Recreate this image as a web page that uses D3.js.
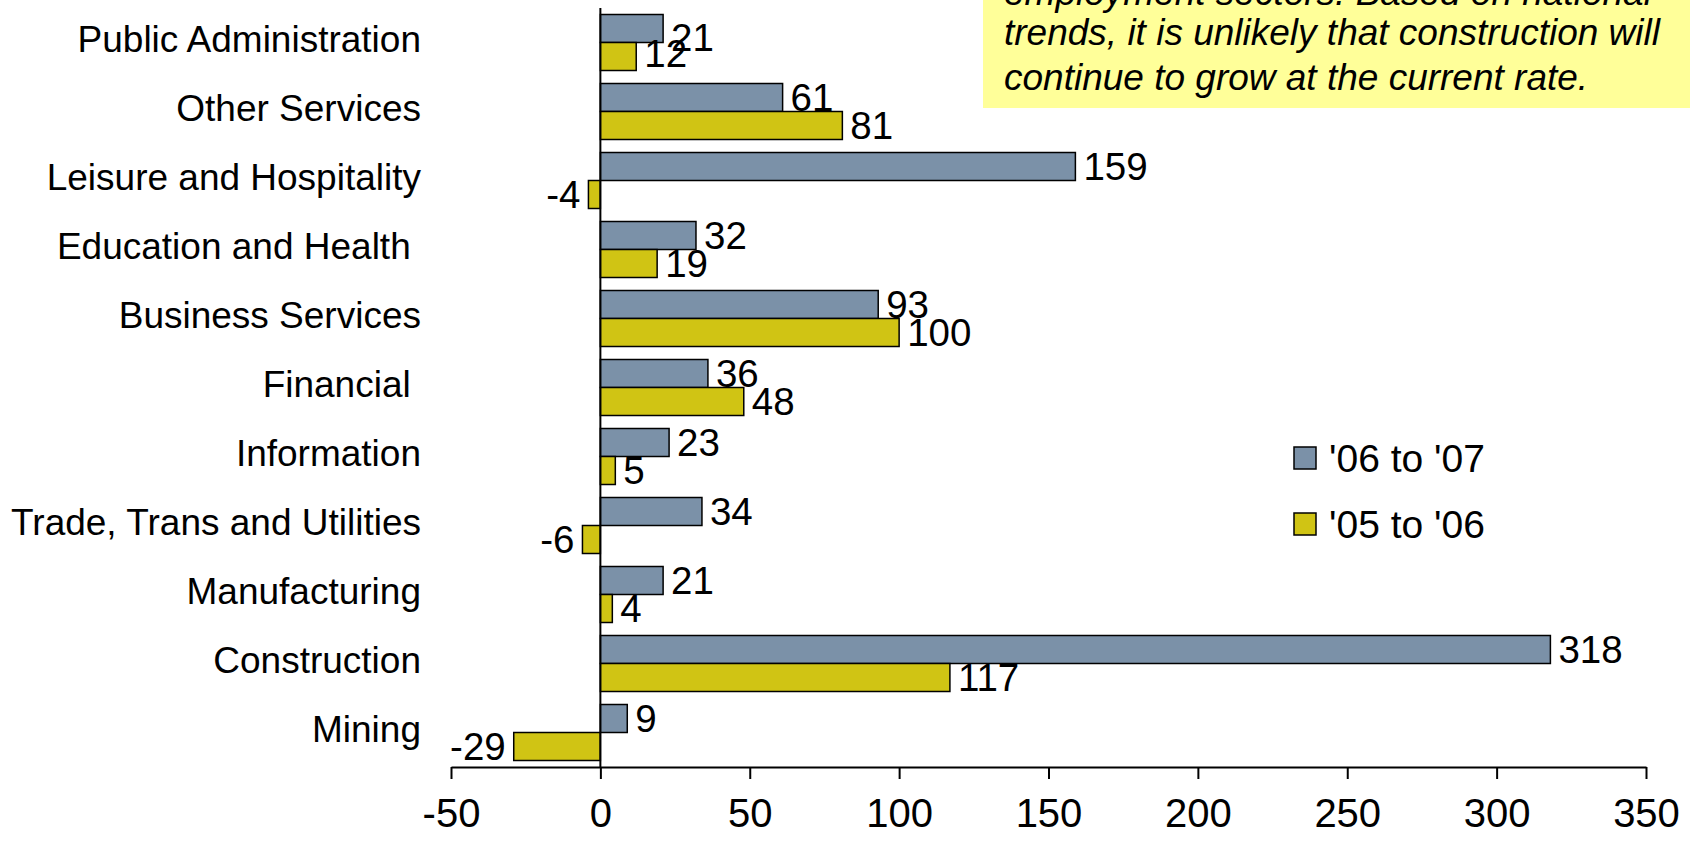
<!DOCTYPE html>
<html>
<head>
<meta charset="utf-8">
<script src="https://cdn.jsdelivr.net/npm/d3@7/dist/d3.min.js"></script>
<style>
  html, body { margin: 0; padding: 0; background: #ffffff; }
  svg { display: block; }
  text { font-family: "Liberation Sans", Arial, Helvetica, sans-serif; fill: #000; }
</style>
</head>
<body>
<svg id="chart" width="1690" height="844"></svg>
<script>
// Employment change by sector (thousands of jobs)
const categories = [
  "Public Administration",
  "Other Services",
  "Leisure and Hospitality",
  "Education and Health ",
  "Business Services",
  "Financial ",
  "Information",
  "Trade, Trans and Utilities",
  "Manufacturing",
  "Construction",
  "Mining"
];
const seriesNames = ["'06 to '07", "'05 to '06"];
const change0607 = [21, 61, 159, 32, 93, 36, 23, 34, 21, 318, 9];
const change0506 = [12, 81, -4, 19, 100, 48, 5, -6, 4, 117, -29];
const xTicks = [-50, 0, 50, 100, 150, 200, 250, 300, 350];
const noteLines = [
  "employment sectors. Based on national",
  "trends, it is unlikely that construction will",
  "continue to grow at the current rate."
];

const colors = ["#7b91a8", "#d0c414"];
const seriesValues = [change0607, change0506];

const svg = d3.select("#chart");
const FONT = 37;

const x = d3.scaleLinear().domain([-50, 350]).range([451, 1646]);
const y = d3.scaleBand().domain(categories).range([8, 767])
  .paddingInner(13 / 69).paddingOuter(13 / 138);
const ySub = d3.scaleBand().domain([0, 1]).range([0, y.bandwidth()]);

// bars
const rows = categories.map((c, i) => ({
  cat: c,
  vals: seriesValues.map((s, k) => ({ k, v: s[i], cat: c }))
}));

const groups = svg.append("g").selectAll("g")
  .data(rows).join("g")
  .attr("transform", d => `translate(0,${y(d.cat)})`);

groups.selectAll("rect")
  .data(d => d.vals).join("rect")
  .attr("x", d => x(Math.min(0, d.v)))
  .attr("y", d => ySub(d.k))
  .attr("width", d => Math.abs(x(d.v) - x(0)))
  .attr("height", ySub.bandwidth())
  .attr("fill", d => colors[d.k])
  .attr("stroke", "#000")
  .attr("stroke-width", 1.5);

// value labels; the top pair is squeezed together, so the first drops and the second rises a little
function labelShift(d) {
  if (d.cat !== categories[0]) return 0;
  return d.k === 0 ? 9 : -3;
}
groups.selectAll("text.val")
  .data(d => d.vals).join("text")
  .attr("class", "val")
  .attr("x", d => d.v >= 0 ? x(d.v) + 8 : x(d.v) - 8)
  .attr("y", d => ySub(d.k) + ySub.bandwidth() / 2 + 13 + labelShift(d))
  .attr("text-anchor", d => d.v >= 0 ? "start" : "end")
  .attr("font-size", 38.5)
  .text(d => d.v);

// category labels
svg.append("g").selectAll("text")
  .data(categories).join("text")
  .attr("x", 421)
  .attr("y", d => y(d) + y.bandwidth() / 2 + 9)
  .attr("text-anchor", "end")
  .attr("font-size", FONT)
  .style("white-space", "pre")
  .text(d => d);

// value axis along the bottom
const xAxis = svg.append("g")
  .attr("transform", "translate(0,767)")
  .call(d3.axisBottom(x).tickValues(xTicks).tickSize(12).tickSizeOuter(0)
    .tickPadding(20).tickFormat(d => String(d)));
xAxis.select(".domain").attr("stroke", "#000").attr("stroke-width", 2);
xAxis.selectAll(".tick line").attr("stroke", "#000").attr("stroke-width", 2);
xAxis.selectAll(".tick text")
  .attr("font-size", 40)
  .attr("font-family", "Liberation Sans, Arial, sans-serif")
  .attr("fill", "#000");

// category axis at zero
svg.append("line")
  .attr("x1", x(0)).attr("x2", x(0))
  .attr("y1", 8).attr("y2", 767)
  .attr("stroke", "#000").attr("stroke-width", 2);

// legend
const legend = svg.append("g").selectAll("g")
  .data(seriesNames).join("g")
  .attr("transform", (d, i) => `translate(1294,${447 + i * 66})`);
legend.append("rect")
  .attr("width", 22).attr("height", 22)
  .attr("fill", (d, i) => colors[i])
  .attr("stroke", "#000").attr("stroke-width", 1.5);
legend.append("text")
  .attr("x", 35).attr("y", 25)
  .attr("font-size", 39)
  .text(d => d);

// note box at the upper right; its opening line runs off the top edge
const note = svg.append("g");
note.append("rect")
  .attr("x", 983).attr("y", -10)
  .attr("width", 720).attr("height", 118)
  .attr("fill", "#ffff99");
note.selectAll("text")
  .data(noteLines).join("text")
  .attr("x", 1004)
  .attr("y", (d, i) => i === 0 ? 5 : i * 45)
  .attr("font-size", FONT)
  .attr("font-style", "italic")
  .text(d => d);
</script>
</body>
</html>
